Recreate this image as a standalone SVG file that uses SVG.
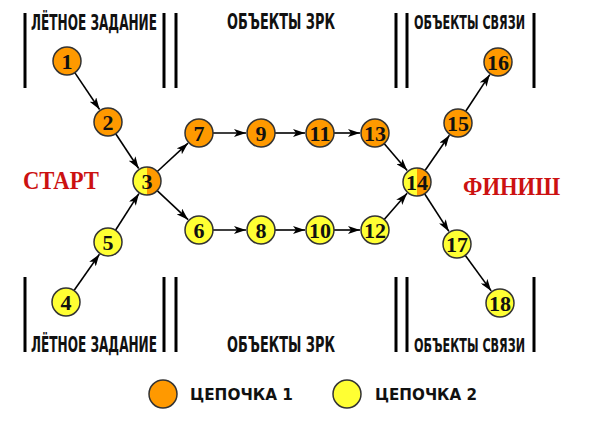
<svg xmlns="http://www.w3.org/2000/svg" width="600" height="434" viewBox="0 0 600 434">
<style>
.bar{stroke:#000;stroke-width:3}
.lbl{font-family:"Liberation Sans Narrow","DejaVu Sans Condensed","Liberation Sans",sans-serif;font-weight:bold;font-size:22px;fill:#111}
.lbl2{font-size:20px}
.o{fill:#FF9900;stroke:#333;stroke-width:1.5}
.y{fill:#FFFF33;stroke:#333;stroke-width:1.5}
.ring{fill:none;stroke:#333;stroke-width:1.5}
.num{font-family:"Liberation Serif","DejaVu Serif",serif;font-weight:bold;font-size:22px;fill:#111;text-anchor:middle}
.big{font-family:"Liberation Serif","DejaVu Serif",serif;font-weight:bold;font-size:25px;fill:#CC1111}
.leg{font-family:"DejaVu Sans","Liberation Sans",sans-serif;font-weight:bold;font-size:15px;fill:#111}
.e{stroke:#000;stroke-width:1.6;fill:none;marker-end:url(#ah)}
</style>
<defs>
<marker id="ah" viewBox="0 0 12 8" refX="12" refY="4" markerWidth="12" markerHeight="8" markerUnits="userSpaceOnUse" orient="auto">
<path d="M0,0 L12,4 L0,8 L3,4 Z" fill="#000"/>
</marker>
</defs>
<rect width="600" height="434" fill="#fff"/>
<g id="frames">
<line class="bar" x1="25" y1="13" x2="25" y2="88"/>
<line class="bar" x1="164" y1="13" x2="164" y2="88"/>
<line class="bar" x1="176" y1="13" x2="176" y2="88"/>
<line class="bar" x1="396" y1="13" x2="396" y2="88"/>
<line class="bar" x1="407" y1="13" x2="407" y2="88"/>
<line class="bar" x1="534" y1="13" x2="534" y2="88"/>
<line class="bar" x1="25" y1="277" x2="25" y2="352"/>
<line class="bar" x1="164" y1="277" x2="164" y2="352"/>
<line class="bar" x1="176" y1="277" x2="176" y2="352"/>
<line class="bar" x1="396" y1="277" x2="396" y2="352"/>
<line class="bar" x1="407" y1="277" x2="407" y2="352"/>
<line class="bar" x1="534" y1="277" x2="534" y2="352"/>
<text class="lbl" x="31" y="30" textLength="126" lengthAdjust="spacingAndGlyphs">ЛЁТНОЕ ЗАДАНИЕ</text>
<text class="lbl" x="227" y="29" textLength="108" lengthAdjust="spacingAndGlyphs">ОБЪЕКТЫ ЗРК</text>
<text class="lbl lbl2" x="414" y="29" textLength="111" lengthAdjust="spacingAndGlyphs">ОБЪЕКТЫ СВЯЗИ</text>
<text class="lbl" x="31" y="352" textLength="126" lengthAdjust="spacingAndGlyphs">ЛЁТНОЕ ЗАДАНИЕ</text>
<text class="lbl" x="227" y="352" textLength="108" lengthAdjust="spacingAndGlyphs">ОБЪЕКТЫ ЗРК</text>
<text class="lbl lbl2" x="414" y="352" textLength="111" lengthAdjust="spacingAndGlyphs">ОБЪЕКТЫ СВЯЗИ</text>
</g>
<g id="start"><text class="big" x="23" y="189" textLength="76" lengthAdjust="spacingAndGlyphs">СТАРТ</text></g>
<g id="finish"><text class="big" x="463" y="195" textLength="97" lengthAdjust="spacingAndGlyphs">ФИНИШ</text></g>
<g id="connectors">
<line class="e" x1="74.8" y1="72.6" x2="99.6" y2="109.5"/>
<line class="e" x1="115.7" y1="133.7" x2="138.7" y2="168.5"/>
<line class="e" x1="74" y1="290.5" x2="99.4" y2="254.3"/>
<line class="e" x1="115.5" y1="230.2" x2="138.9" y2="193.6"/>
<line class="e" x1="157.3" y1="171.5" x2="188" y2="143.2"/>
<line class="e" x1="157.2" y1="190.6" x2="188.1" y2="219.7"/>
<line class="e" x1="213" y1="133" x2="246" y2="133"/>
<line class="e" x1="275" y1="133" x2="305" y2="133"/>
<line class="e" x1="334" y1="133" x2="360" y2="133"/>
<line class="e" x1="213" y1="230" x2="246" y2="230"/>
<line class="e" x1="275" y1="230" x2="305" y2="230"/>
<line class="e" x1="334" y1="230" x2="360" y2="230"/>
<line class="e" x1="384.1" y1="143.6" x2="407.2" y2="170.6"/>
<line class="e" x1="384.2" y1="219.5" x2="407.1" y2="193.3"/>
<line class="e" x1="425" y1="170.5" x2="449.4" y2="135.3"/>
<line class="e" x1="465.7" y1="111.3" x2="489.8" y2="74.6"/>
<line class="e" x1="424.6" y1="193.8" x2="448.9" y2="231.4"/>
<line class="e" x1="465.2" y1="255.3" x2="491.2" y2="290.9"/>
</g>
<g id="n1"><circle class="o" cx="67" cy="61" r="14"/><text class="num" x="67" y="68.5">1</text></g>
<g id="n2"><circle class="o" cx="108" cy="122" r="14"/><text class="num" x="108" y="129.5">2</text></g>
<g id="n3"><path d="M147,167 A14,14 0 0 0 147,195 Z" fill="#FFFF33"/><path d="M147,167 A14,14 0 0 1 147,195 Z" fill="#FF9900"/><circle class="ring" cx="147" cy="181" r="14"/><text class="num" x="147" y="188.5">3</text></g>
<g id="n4"><circle class="y" cx="66" cy="302" r="14"/><text class="num" x="66" y="309.5">4</text></g>
<g id="n5"><circle class="y" cx="108" cy="242" r="14"/><text class="num" x="108" y="249.5">5</text></g>
<g id="n6"><circle class="y" cx="199" cy="230" r="14"/><text class="num" x="199" y="237.5">6</text></g>
<g id="n7"><circle class="o" cx="199" cy="133" r="14"/><text class="num" x="199" y="140.5">7</text></g>
<g id="n8"><circle class="y" cx="261" cy="230" r="14"/><text class="num" x="261" y="237.5">8</text></g>
<g id="n9"><circle class="o" cx="261" cy="133" r="14"/><text class="num" x="261" y="140.5">9</text></g>
<g id="n10"><circle class="y" cx="320" cy="230" r="14"/><text class="num" x="320" y="237.5">10</text></g>
<g id="n11"><circle class="o" cx="320" cy="133" r="14"/><text class="num" x="320" y="140.5">11</text></g>
<g id="n12"><circle class="y" cx="375" cy="230" r="14"/><text class="num" x="375" y="237.5">12</text></g>
<g id="n13"><circle class="o" cx="375" cy="133" r="14"/><text class="num" x="375" y="140.5">13</text></g>
<g id="n14"><path d="M417,168 A14,14 0 0 0 417,196 Z" fill="#FFFF33"/><path d="M417,168 A14,14 0 0 1 417,196 Z" fill="#FF9900"/><circle class="ring" cx="417" cy="182" r="14"/><text class="num" x="417" y="189.5">14</text></g>
<g id="n15"><circle class="o" cx="458" cy="123" r="14"/><text class="num" x="458" y="130.5">15</text></g>
<g id="n16"><circle class="o" cx="498" cy="62" r="14"/><text class="num" x="498" y="69.5">16</text></g>
<g id="n17"><circle class="y" cx="457" cy="244" r="14"/><text class="num" x="457" y="251.5">17</text></g>
<g id="n18"><circle class="y" cx="500" cy="303" r="14"/><text class="num" x="500" y="310.5">18</text></g>
<g id="legend1"><circle class="o" cx="163" cy="394" r="14"/><text class="leg" x="190" y="400" textLength="103" lengthAdjust="spacingAndGlyphs">ЦЕПОЧКА 1</text></g>
<g id="legend2"><circle class="y" cx="347" cy="394" r="14"/><text class="leg" x="375" y="400" textLength="102" lengthAdjust="spacingAndGlyphs">ЦЕПОЧКА 2</text></g>
</svg>
